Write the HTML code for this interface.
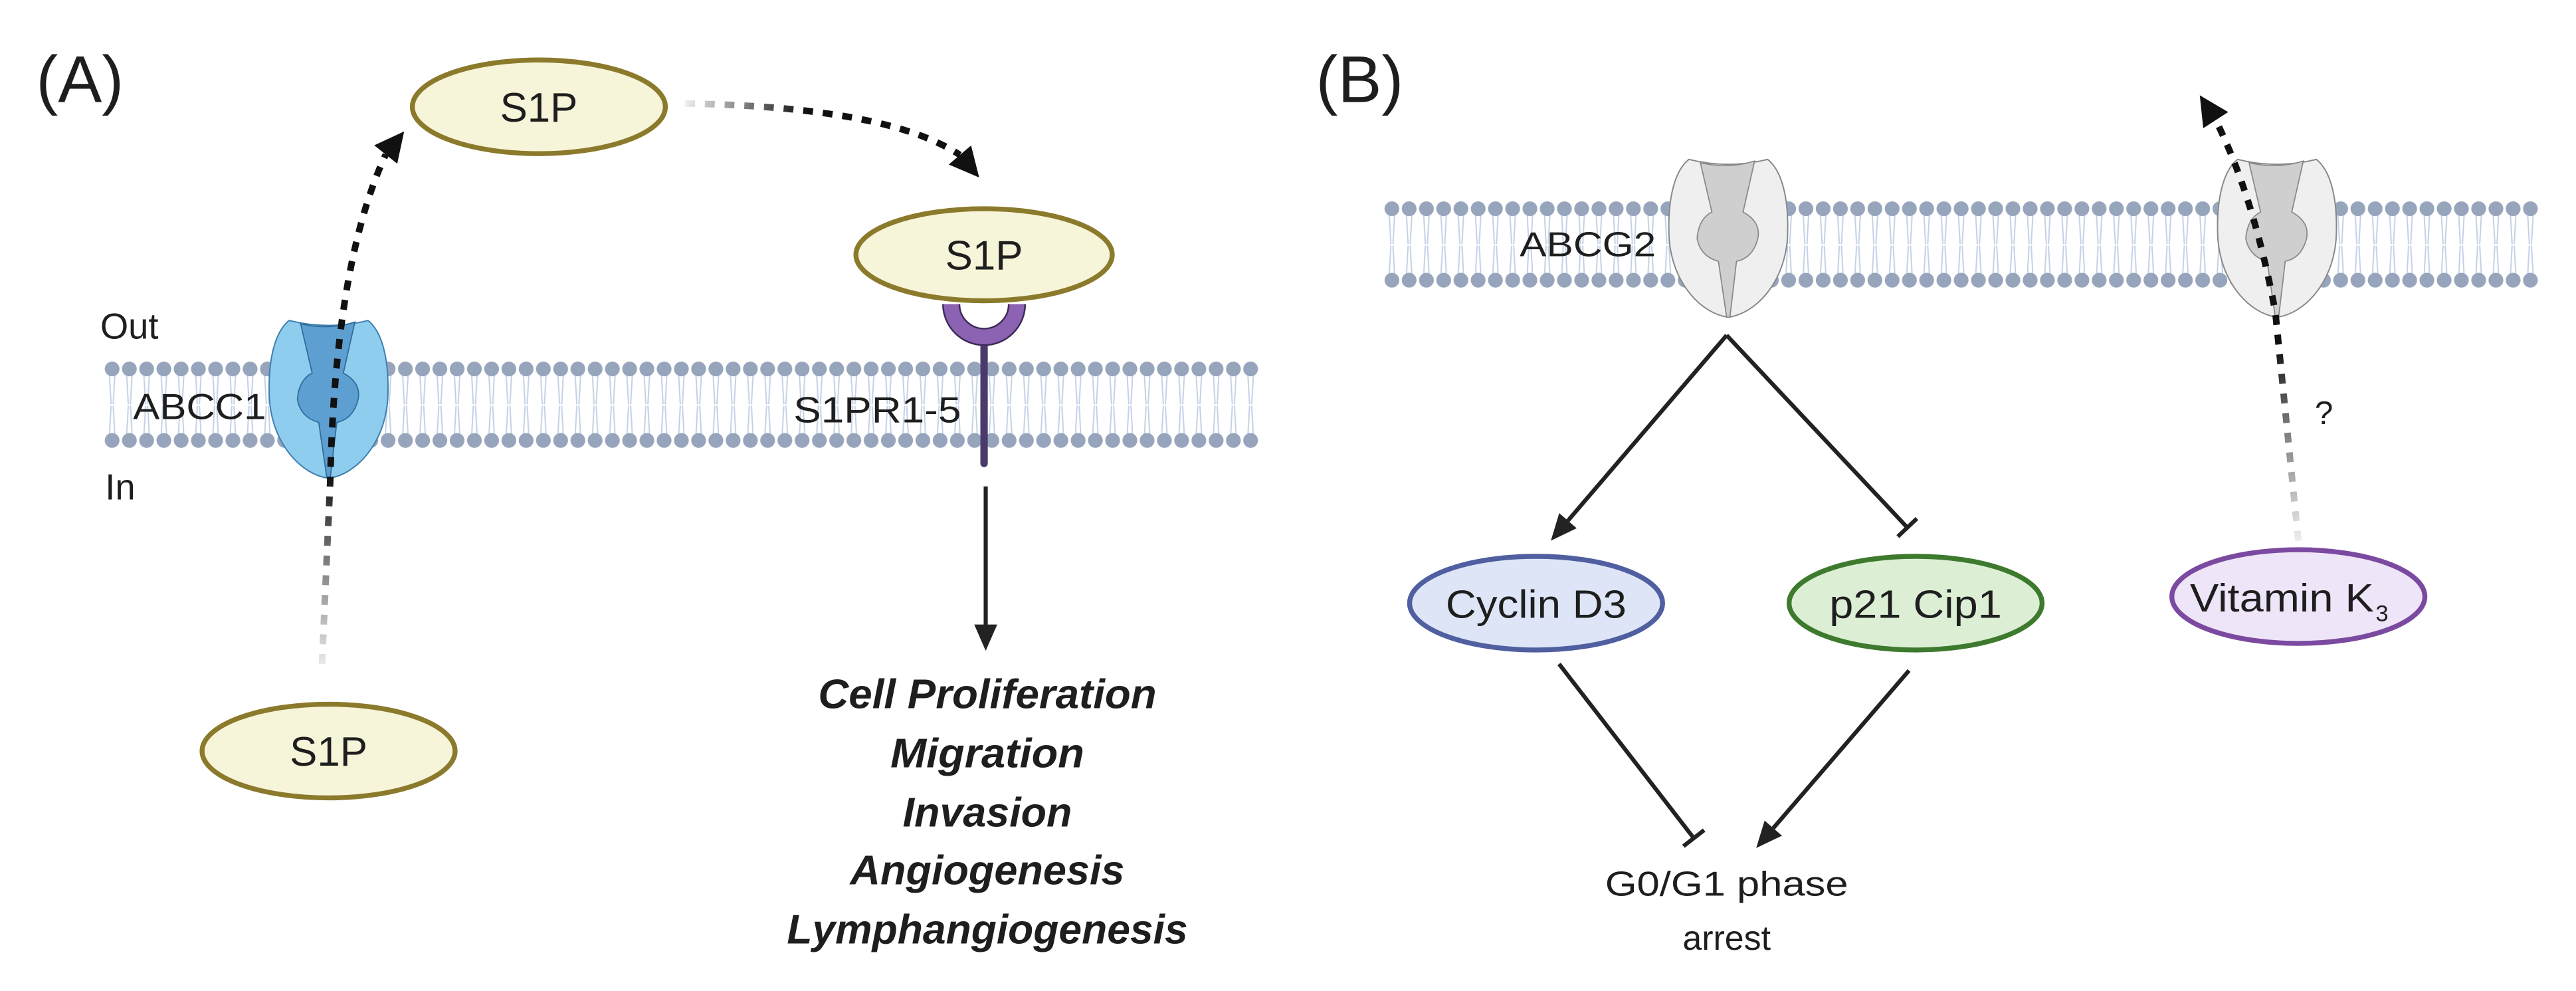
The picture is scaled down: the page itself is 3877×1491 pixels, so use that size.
<!DOCTYPE html>
<html><head><meta charset="utf-8"><style>
html,body{margin:0;padding:0;background:#fff;}
svg{display:block;}
text{font-family:"Liberation Sans",sans-serif;fill:#1e1e1e;}
</style></head><body>
<svg width="3877" height="1491" viewBox="0 0 1568 603" preserveAspectRatio="none" xmlns="http://www.w3.org/2000/svg">
<defs>
<pattern id="memA" patternUnits="userSpaceOnUse" x="63" y="219" width="10.5" height="55">
 <g stroke="#c3d1e6" stroke-width="0.8" fill="none">
  <line x1="3.6" y1="9" x2="4.6" y2="27"/><line x1="6.9" y1="9" x2="5.9" y2="27"/>
  <line x1="4.6" y1="28" x2="3.6" y2="46"/><line x1="5.9" y1="28" x2="6.9" y2="46"/>
 </g>
 <circle cx="5.25" cy="5.5" r="4.5" fill="#97a5bc"/>
 <circle cx="5.25" cy="49" r="4.5" fill="#97a5bc"/>
</pattern>
<pattern id="memB" patternUnits="userSpaceOnUse" x="842" y="121.5" width="10.5" height="55">
 <g stroke="#c3d1e6" stroke-width="0.8" fill="none">
  <line x1="3.6" y1="9" x2="4.6" y2="27"/><line x1="6.9" y1="9" x2="5.9" y2="27"/>
  <line x1="4.6" y1="28" x2="3.6" y2="46"/><line x1="5.9" y1="28" x2="6.9" y2="46"/>
 </g>
 <circle cx="5.25" cy="5.5" r="4.5" fill="#97a5bc"/>
 <circle cx="5.25" cy="49" r="4.5" fill="#97a5bc"/>
</pattern>
<linearGradient id="gA" gradientUnits="userSpaceOnUse" x1="0" y1="410" x2="0" y2="290">
 <stop offset="0" stop-color="#f2f2f2"/><stop offset="0.6" stop-color="#777"/><stop offset="1" stop-color="#111"/>
</linearGradient>
<linearGradient id="gA2" gradientUnits="userSpaceOnUse" x1="417" y1="0" x2="490" y2="0">
 <stop offset="0" stop-color="#eeeeee"/><stop offset="1" stop-color="#111"/>
</linearGradient>
<linearGradient id="gB" gradientUnits="userSpaceOnUse" x1="0" y1="332" x2="0" y2="210">
 <stop offset="0" stop-color="#f2f2f2"/><stop offset="0.6" stop-color="#777"/><stop offset="1" stop-color="#111"/>
</linearGradient>
<path id="outer" d="M -24,-48 C -34,-40 -37,-20 -36,0 C -34,28 -16,46 0,48 C 16,46 34,28 36,0 C 37,-20 34,-40 24,-48 Q 0,-42 -24,-48 Z"/>
<path id="inner" d="M -17,-46 Q 0,-42 16,-47 L 9,-16 Q 20,-10 18,0 Q 15,12 5,14 L 1,48 L -1,48 L -6,14 Q -17,11 -19,0 Q -18,-12 -10,-16 Z"/>
</defs>

<!-- Panel A -->
<text x="22" y="62" font-size="40">(A)</text>
<rect x="63" y="219" width="703" height="55" fill="url(#memA)"/>

<g transform="translate(200,243)">
 <use href="#outer" fill="#8ecdee" stroke="#3d7fae" stroke-width="0.8"/>
 <use href="#inner" fill="#5e9fd2" stroke="#2f6c9a" stroke-width="0.7"/>
</g>

<text x="61" y="206" font-size="22">Out</text>
<text x="64" y="304" font-size="22">In</text>
<text x="81" y="255" font-size="22" textLength="81" lengthAdjust="spacingAndGlyphs">ABCC1</text>
<text x="483" y="257" font-size="22" textLength="102" lengthAdjust="spacingAndGlyphs">S1PR1-5</text>

<path d="M 196,404 L 201,293 Q 204,160 234.8,94" fill="none" stroke="url(#gA)" stroke-width="4" stroke-dasharray="6,6"/>
<polygon points="246,80 241.8,99.6 227.8,88.4" fill="#111"/>
<path d="M 417,63 Q 540,65 584.3,94.3" fill="none" stroke="url(#gA2)" stroke-width="4" stroke-dasharray="6,6"/>
<polygon points="596,108 591.1,88.5 577.5,100.1" fill="#111"/>

<g fill="#f7f5d9" stroke="#8c7a2c" stroke-width="3">
 <ellipse cx="328" cy="65" rx="77" ry="28.5"/>
 <ellipse cx="599" cy="155" rx="78" ry="28"/>
 <ellipse cx="200" cy="457" rx="77" ry="28.5"/>
</g>
<text x="328" y="74" font-size="25" text-anchor="middle">S1P</text>
<text x="599" y="164" font-size="25" text-anchor="middle">S1P</text>
<text x="200" y="466" font-size="25" text-anchor="middle">S1P</text>

<line x1="599" y1="205" x2="599" y2="282" stroke="#4a3a6b" stroke-width="4.5" stroke-linecap="round"/>
<path d="M 579,185 A 20,20 0 0 0 619,185" fill="none" stroke="#3e2a5a" stroke-width="11"/>
<path d="M 579,185 A 20,20 0 0 0 619,185" fill="none" stroke="#8c63b3" stroke-width="9"/>

<line x1="600" y1="296" x2="600" y2="382" stroke="#222" stroke-width="2.5"/>
<polygon points="600,396 593,380 607,380" fill="#222"/>

<g font-weight="bold" font-style="italic" font-size="25" text-anchor="middle">
 <text x="601" y="431" textLength="206" lengthAdjust="spacingAndGlyphs">Cell Proliferation</text>
 <text x="601" y="467" textLength="118" lengthAdjust="spacingAndGlyphs">Migration</text>
 <text x="601" y="503" textLength="103" lengthAdjust="spacingAndGlyphs">Invasion</text>
 <text x="601" y="538" textLength="167" lengthAdjust="spacingAndGlyphs">Angiogenesis</text>
 <text x="601" y="574" textLength="244" lengthAdjust="spacingAndGlyphs">Lymphangiogenesis</text>
</g>

<!-- Panel B -->
<text x="801" y="62" font-size="40">(B)</text>
<rect x="842" y="121.5" width="704" height="55" fill="url(#memB)"/>

<g transform="translate(1052,145)">
 <use href="#outer" fill="#efefef" stroke="#888" stroke-width="0.8"/>
 <use href="#inner" fill="#cfcfcf" stroke="#888" stroke-width="0.7"/>
</g>
<g transform="translate(1386,145)">
 <use href="#outer" fill="#efefef" stroke="#888" stroke-width="0.8"/>
 <use href="#inner" fill="#cfcfcf" stroke="#888" stroke-width="0.7"/>
</g>
<text x="925" y="156" font-size="21" textLength="83" lengthAdjust="spacingAndGlyphs">ABCG2</text>

<path d="M 1399,329 L 1385,190 Q 1372,120 1348.7,73.1" fill="none" stroke="url(#gB)" stroke-width="4" stroke-dasharray="6,6"/>
<polygon points="1339,58 1356.3,68.2 1341.1,78" fill="#111"/>
<text x="1409" y="258" font-size="20">?</text>

<g stroke="#222" stroke-width="2.5" fill="none">
 <line x1="1051" y1="204" x2="954.4" y2="316.8"/>
 <line x1="1051" y1="204" x2="1161" y2="321"/>
 <line x1="1166.8" y1="315.5" x2="1155.2" y2="326.5"/>
 <line x1="949" y1="404" x2="1031" y2="510"/>
 <line x1="1037.3" y1="505.1" x2="1024.7" y2="514.9"/>
 <line x1="1162" y1="408" x2="1079.4" y2="503.9"/>
</g>
<polygon points="944,329 959.7,321.4 949.1,312.2" fill="#222"/>
<polygon points="1069,516 1084.7,508.5 1074.1,499.3" fill="#222"/>

<ellipse cx="935" cy="367" rx="77" ry="28.5" fill="#dde5f7" stroke="#4f5fa0" stroke-width="3"/>
<ellipse cx="1166" cy="367" rx="77" ry="28.5" fill="#dcefd5" stroke="#3e7a2e" stroke-width="3"/>
<ellipse cx="1399" cy="363" rx="77" ry="28.5" fill="#efe5f8" stroke="#7b4aa0" stroke-width="3"/>
<text x="935" y="376" font-size="24" text-anchor="middle" textLength="110" lengthAdjust="spacingAndGlyphs">Cyclin D3</text>
<text x="1166" y="376" font-size="24" text-anchor="middle" textLength="105" lengthAdjust="spacingAndGlyphs">p21 Cip1</text>
<text x="1333" y="372" font-size="24" textLength="112" lengthAdjust="spacingAndGlyphs">Vitamin K</text>
<text x="1446" y="378" font-size="14">3</text>

<text x="1051" y="545" font-size="21" text-anchor="middle" textLength="148" lengthAdjust="spacingAndGlyphs">G0/G1 phase</text>
<text x="1051" y="578" font-size="21" text-anchor="middle">arrest</text>
</svg>
</body></html>
